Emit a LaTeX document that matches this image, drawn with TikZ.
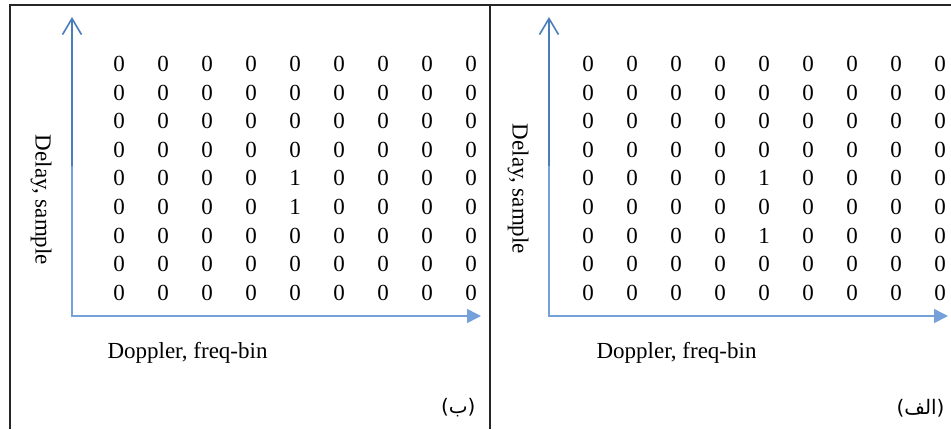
\documentclass[tikz,border=0pt]{standalone}
\usepackage{fontspec}
\setmainfont{Liberation Serif}
\newfontfamily\arabicfont[Script=Arabic]{DejaVu Sans}
\TeXXeTstate=1
\usetikzlibrary{arrows.meta}
\usepackage{xcolor}
\definecolor{axisdark}{RGB}{74,126,187}
\definecolor{axislight}{RGB}{118,160,218}

\begin{document}
\begin{tikzpicture}[x=1pt, y=-1pt, font=\fontsize{23}{27}\selectfont,
  entry/.style={inner sep=0pt},
  frame/.style={black!85, line width=2pt},
  upaxis/.style={axisdark, line width=1.6pt, -{Straight Barb[length=16pt,width=19pt]}},
  rightaxis/.style={axislight, line width=1.6pt, -{Triangle[length=14pt,width=14pt]}},
  tag/.style={anchor=east, font=\fontsize{20}{24}\arabicfont}] %delay-doppler grids
\useasboundingbox (0,0) rectangle (951,429);
\draw[frame] (10,429) -- (10,5) -- (951,5);
\draw[frame] (490,5) -- (490,429);
% panel (b)
\foreach \r/\row in {1/{0,0,0,0,0,0,0,0,0},2/{0,0,0,0,0,0,0,0,0},3/{0,0,0,0,0,0,0,0,0},
  4/{0,0,0,0,0,0,0,0,0},5/{0,0,0,0,1,0,0,0,0},6/{0,0,0,0,1,0,0,0,0},
  7/{0,0,0,0,0,0,0,0,0},8/{0,0,0,0,0,0,0,0,0},9/{0,0,0,0,0,0,0,0,0}}
  \foreach \v [count=\c] in \row
    \node[entry] (b-\r-\c) at ({119+44*(\c-1)},{64+28.6*(\r-1)}) {\v};
\coordinate (b-top) at (72,17);
\coordinate (b-mid) at (72,166);
\coordinate (b-end) at (481,316);
\draw[upaxis] (b-mid) -- (b-top);
\draw[rightaxis] (b-mid) |- (b-end);
\node[rotate=-90] (b-delay) at (41,200) {Delay, sample};
\node[anchor=west] (b-doppler) at (104,353) {Doppler, freq-bin};
\node[tag] (b-tag) at (479,408) {\beginR(ب)\endR};
% panel (a)
\foreach \r/\row in {1/{0,0,0,0,0,0,0,0,0},2/{0,0,0,0,0,0,0,0,0},3/{0,0,0,0,0,0,0,0,0},
  4/{0,0,0,0,0,0,0,0,0},5/{0,0,0,0,1,0,0,0,0},6/{0,0,0,0,0,0,0,0,0},
  7/{0,0,0,0,1,0,0,0,0},8/{0,0,0,0,0,0,0,0,0},9/{0,0,0,0,0,0,0,0,0}}
  \foreach \v [count=\c] in \row
    \node[entry] (a-\r-\c) at ({588+44*(\c-1)},{64+28.6*(\r-1)}) {\v};
\coordinate (a-top) at (549,17);
\coordinate (a-mid) at (549,166);
\coordinate (a-end) at (948,316);
\draw[upaxis] (a-mid) -- (a-top);
\draw[rightaxis] (a-mid) |- (a-end);
\node[rotate=-90] (a-delay) at (518,189) {Delay, sample};
\node[anchor=west] (a-doppler) at (593,353) {Doppler, freq-bin};
\node[tag] (a-tag) at (948,408) {\beginR(الف)\endR};
\end{tikzpicture}
\end{document}
